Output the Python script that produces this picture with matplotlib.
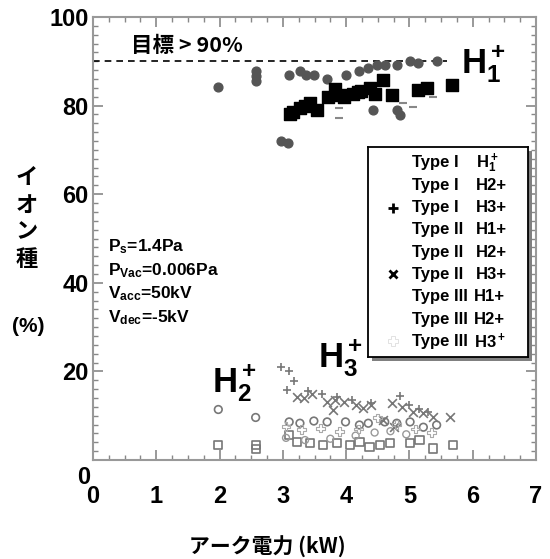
import matplotlib
matplotlib.use('Agg')
import matplotlib.pyplot as plt
from matplotlib.patches import Rectangle
from matplotlib.ticker import MultipleLocator

plt.rcParams['font.family'] = ['Liberation Sans', 'Noto Sans CJK JP', 'DejaVu Sans']
plt.rcParams['font.weight'] = 'bold'
plt.rcParams['mathtext.fontset'] = 'custom'
plt.rcParams['mathtext.rm'] = 'Liberation Sans:bold'
plt.rcParams['mathtext.it'] = 'Liberation Sans:bold'
plt.rcParams['mathtext.bf'] = 'Liberation Sans:bold'

# --- data (arc power kW, ion fraction %) ---
t1_h1_x = [1.98, 2.57, 2.57, 2.57, 2.97, 3.08, 3.10, 3.27, 3.37, 3.49, 3.70, 3.99, 4.21, 4.35, 4.48, 4.61, 4.80, 5.01, 5.14, 5.43, 4.42, 4.80, 4.85]
t1_h1_y = [84.1, 87.9, 86.7, 85.5, 72.0, 71.6, 86.8, 87.7, 86.9, 86.8, 86.1, 86.8, 87.7, 88.5, 89.2, 89.2, 89.2, 90.1, 89.6, 90.1, 78.9, 78.9, 77.8]

t2_h1_x = [3.11, 3.16, 3.27, 3.35, 3.43, 3.54, 3.72, 3.83, 3.90, 3.96, 4.11, 4.18, 4.24, 4.37, 4.45, 4.59, 4.72, 5.14, 5.27, 5.68]
t2_h1_y = [78.1, 78.6, 79.4, 80.0, 80.5, 79.0, 81.9, 83.7, 82.5, 81.9, 82.6, 83.0, 83.4, 83.9, 82.7, 85.8, 82.4, 83.6, 84.0, 84.6]

t3_h1_x = [3.88, 3.88, 4.90, 5.06, 5.37]
t3_h1_y = [79.4, 77.1, 80.5, 79.6, 82.0]

t1_h2_x = [1.98, 2.57, 3.10, 3.27, 3.49, 3.70, 3.99, 4.21, 4.35, 4.61, 4.80, 5.01, 5.22, 5.43]
t1_h2_y = [11.4, 9.6, 8.6, 8.3, 8.8, 8.6, 8.6, 7.9, 8.3, 8.6, 8.3, 8.6, 7.4, 7.9]

t2_h2_x = [1.98, 2.57, 2.57, 3.10, 3.22, 3.43, 3.64, 3.85, 4.06, 4.21, 4.37, 4.53, 4.69, 5.01, 5.16, 5.37, 5.69]
t2_h2_y = [3.4, 3.4, 2.4, 5.6, 4.1, 3.8, 3.4, 3.8, 3.4, 4.1, 3.0, 3.4, 3.8, 3.8, 4.5, 2.6, 3.4]

t3_h2_x = [3.05, 3.35, 3.75, 4.15, 4.45, 4.70, 4.95]
t3_h2_y = [5.0, 4.5, 4.8, 5.5, 6.2, 6.5, 5.8]

t1_h3_x = [2.97, 3.10, 3.18, 3.06, 3.40, 3.62, 3.85, 4.10, 4.40, 4.85, 5.00, 5.15, 5.30]
t1_h3_y = [21.0, 20.0, 17.8, 15.9, 15.5, 14.8, 14.2, 13.6, 12.8, 14.4, 12.5, 11.5, 10.8]

t2_h3_x = [3.23, 3.33, 3.46, 3.70, 3.83, 3.80, 3.97, 4.16, 4.27, 4.40, 4.72, 4.88, 5.06, 5.22, 5.37, 5.64, 4.59, 4.75]
t2_h3_y = [14.3, 13.9, 15.0, 13.2, 13.5, 11.3, 13.2, 12.5, 11.7, 12.5, 12.8, 12.0, 10.9, 10.5, 9.8, 9.8, 9.0, 7.5]

t3_h3_x = [3.05, 3.30, 3.60, 3.90, 4.20, 4.50, 4.80, 5.10, 5.35]
t3_h3_y = [7.5, 6.8, 7.2, 6.5, 7.0, 9.5, 8.0, 7.0, 6.2]

target = 90
legend_types = ['Type I', 'Type I', 'Type I', 'Type II', 'Type II', 'Type II', 'Type III', 'Type III', 'Type III']
legend_ions = [r'H$_1^+$', 'H2+', 'H3+', 'H1+', 'H2+', 'H3+', 'H1+', 'H2+', r'H3$^+$']

fig = plt.figure(figsize=(5.5, 5.59), dpi=100)
ax = fig.add_axes([93 / 550, 1 - 460 / 559, 443 / 550, 443 / 559])

ax.scatter(t1_h1_x, t1_h1_y, s=40, marker='o', color='#555555', zorder=3)
ax.scatter(t2_h1_x, t2_h1_y, s=65, marker='s', color='black', zorder=4)
ax.scatter(t3_h1_x, t3_h1_y, s=30, marker='_', color='#888888', zorder=3)
ax.scatter(t1_h2_x, t1_h2_y, s=30, marker='o', facecolors='none', edgecolors='#777777', linewidths=1.2)
ax.scatter(t2_h2_x, t2_h2_y, s=35, marker='s', facecolors='none', edgecolors='#777777', linewidths=1.2)
ax.scatter(t3_h2_x, t3_h2_y, s=25, marker='o', facecolors='none', edgecolors='#999999', linewidths=1)
ax.scatter(t1_h3_x, t1_h3_y, s=40, marker='+', color='#777777', linewidths=1.2)
ax.scatter(t2_h3_x, t2_h3_y, s=40, marker='x', color='#777777', linewidths=1.2)
ax.scatter(t3_h3_x, t3_h3_y, s=40, marker='P', facecolors='none', edgecolors='#aaaaaa', linewidths=0.8)

ax.plot([0, 5.6], [target, target], ls=(0, (4, 3)), color='black', lw=1.2)

ax.set_xlim(0, 7)
ax.set_ylim(0, 100)
ax.xaxis.set_major_locator(MultipleLocator(1))
ax.xaxis.set_minor_locator(MultipleLocator(0.25))
ax.yaxis.set_major_locator(MultipleLocator(20))
ax.yaxis.set_minor_locator(MultipleLocator(2))
ax.tick_params(which='both', direction='in', top=True, right=True, color='#888888')
ax.tick_params(which='major', length=7, width=1.2, labelsize=17)
ax.tick_params(which='minor', length=3.5, width=1)
ax.tick_params(axis='x', pad=18)
ax.tick_params(axis='y', pad=3)
for s in ax.spines.values():
    s.set_color('#999999')
    s.set_linewidth(1.5)
ax.set_yticks([0, 20, 40, 60, 80, 100], ['', '20', '40', '60', '80', '100'])
fig.text(90 / 550, 1 - 477 / 559, '0', fontsize=17, ha='right', va='center')

# text annotations
ax.text(0.6, 92.2, '目標 > 90%', fontsize=15.5, family=['Noto Sans CJK JP', 'Liberation Sans'], weight='bold')
ax.text(5.82, 87.3, r'$\mathrm{H_1^+}$', fontsize=25)
ax.text(1.88, 15.3, r'$\mathrm{H_2^+}$', fontsize=25)
ax.text(3.56, 20.8, r'$\mathrm{H_3^+}$', fontsize=25)

params = [r'P$_\mathrm{s}$=1.4Pa', r'P$_\mathrm{Vac}$=0.006Pa', r'V$_\mathrm{acc}$=50kV', r'V$_\mathrm{dec}$=-5kV']
for i, p in enumerate(params):
    fig.text(108 / 550, 1 - (247 + 23.5 * i) / 559, p, fontsize=12.5, va='center')

# axis labels
for i, ch in enumerate('イオン種'):
    fig.text(27 / 550, 1 - (178 + 27 * i) / 559, ch, fontsize=16, ha='center', va='center',
             family=['Noto Sans CJK JP'], weight='bold')
fig.text(28 / 550, 1 - 327 / 559, '(%)', fontsize=15, ha='center', va='center')
fig.text(267 / 550, 1 - 547 / 559, 'アーク電力 (kW)', fontsize=15, ha='center', va='center',
         family=['Noto Sans CJK JP', 'Liberation Sans'], weight='bold')

# legend box with shadow, laid out in pixel coordinates
fig.add_artist(Rectangle((372 / 550, 1 - 361 / 559), 160 / 550, 210 / 559,
                         transform=fig.transFigure, facecolor='#808080', edgecolor='none', zorder=2))
lax = fig.add_axes([368 / 550, 1 - 357 / 559, 160 / 550, 210 / 559], zorder=3)
lax.set_xlim(368, 528)
lax.set_ylim(357, 147)
lax.set_xticks([])
lax.set_yticks([])
for s in lax.spines.values():
    s.set_color('black')
    s.set_linewidth(1.3)
for i, (tp, ion) in enumerate(zip(legend_types, legend_ions)):
    yy = 163 + 22.3 * i
    lax.text(412, yy, tp, fontsize=12, va='center', ha='left')
    lax.text(476 if tp != 'Type III' else 474, yy, ion, fontsize=12, va='center', ha='left')
lax.plot([393], [163 + 22.3 * 2], marker='+', color='black', markersize=7, mew=2)
lax.plot([393], [163 + 22.3 * 5], marker='x', color='black', markersize=6, mew=2)
lax.plot([393], [163 + 22.3 * 8], marker='P', mfc='none', mec='#dddddd', markersize=7, mew=0.6)

fig.savefig('out.png', dpi=100)
